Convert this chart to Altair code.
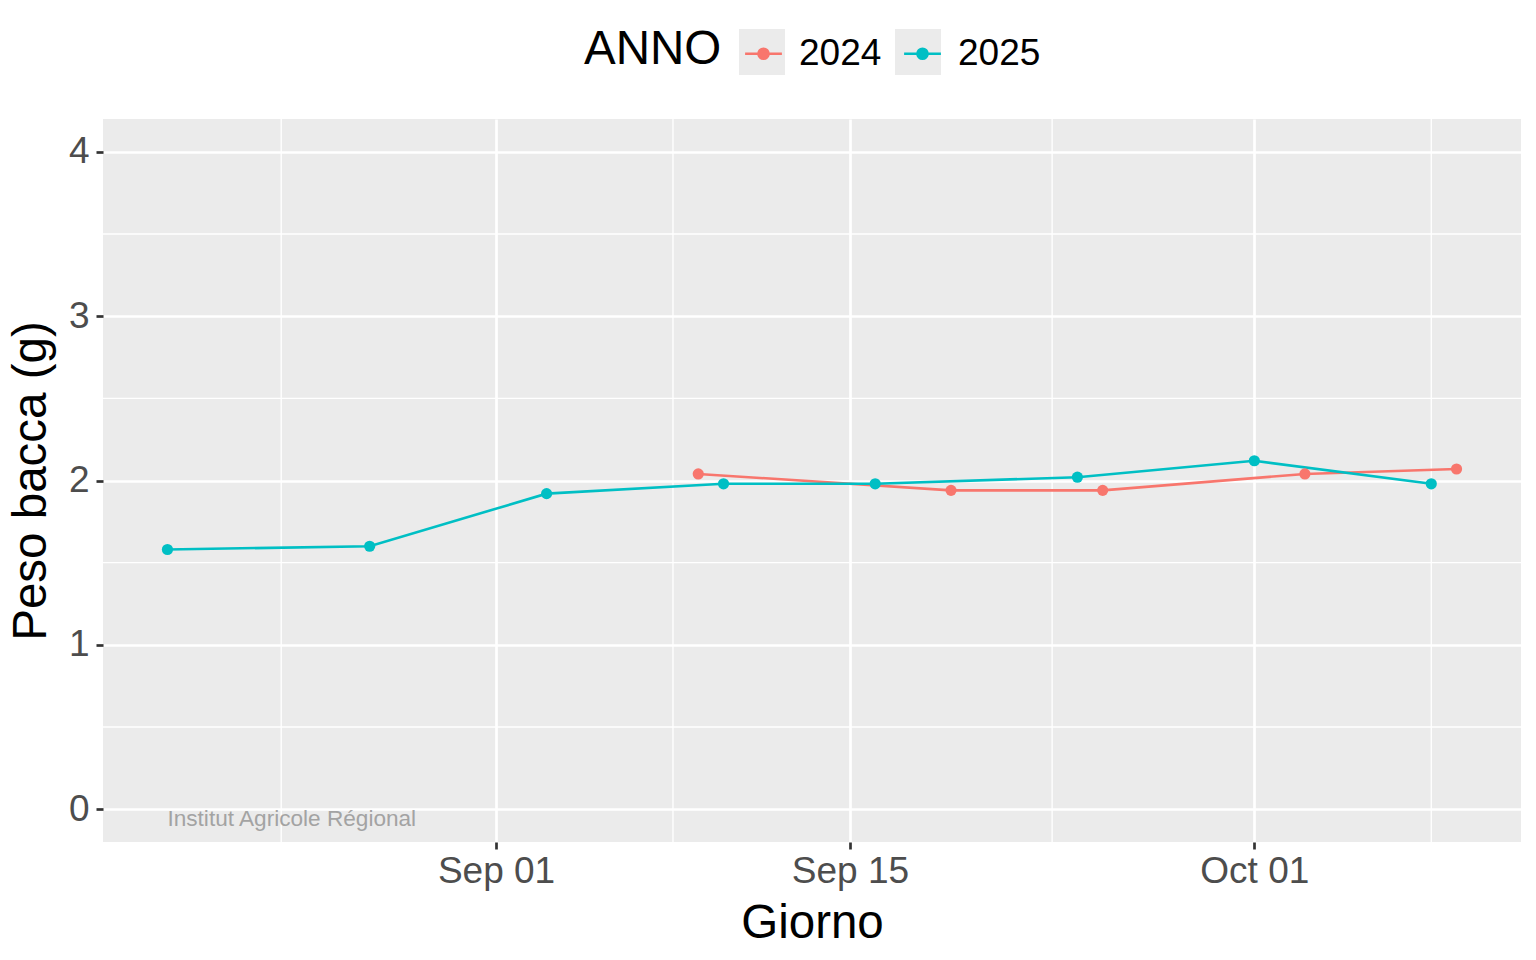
import altair as alt
import pandas as pd

# ---- data ----
anni = ["2024", "2025"]
colori = ["#F8766D", "#00BFC4"]

giorni_2024 = ["09-09", "09-19", "09-25", "10-03", "10-09"]
peso_2024 = [2.04, 1.94, 1.94, 2.04, 2.07]

giorni_2025 = ["08-19", "08-27", "09-03", "09-10", "09-16", "09-24", "10-01", "10-08"]
peso_2025 = [1.58, 1.60, 1.92, 1.98, 1.98, 2.02, 2.12, 1.98]

x_major = ["09-01", "09-15", "10-01"]
x_minor = ["08-23T12:00", "09-08T00:00", "09-23T00:00", "10-08T00:00"]
y_major = [0, 1, 2, 3, 4]
y_minor = [0.5, 1.5, 2.5, 3.5]
x_limits = ["08-16T10:48", "10-11T13:12"]
y_limits = [-0.2, 4.2]
watermark = "Institut Agricole Régional"
watermark_x = "08-19"
bg_keys = ["0000", "1111"]  # same-width placeholders for the grey key boxes

BASE_YEAR = "2025"


def ts(md):
    if "T" in md:
        return f"{BASE_YEAR}-{md}:00"
    return f"{BASE_YEAR}-{md}T00:00:00"


rows = []
for a, gg, pp in [("2024", giorni_2024, peso_2024), ("2025", giorni_2025, peso_2025)]:
    for g, p in zip(gg, pp):
        rows.append({"Giorno": ts(g), "Peso": p, "ANNO": a,
                     "BG": bg_keys[anni.index(a)]})
df = pd.DataFrame(rows)

df_minor_x = pd.DataFrame({"x": [ts(v) for v in x_minor]})
df_minor_y = pd.DataFrame({"y": y_minor})
df_wm = pd.DataFrame({"x": [ts(watermark_x)], "y": [0], "t": [watermark]})


def dt(s):
    d, t = s.split("T") if "T" in s else (s, "00:00")
    m, dd = d.split("-")
    h, mi = t.split(":")
    return alt.DateTime(year=int(BASE_YEAR), month=int(m), date=int(dd), hours=int(h), minutes=int(mi))


FONT = "Liberation Sans"

x_scale = alt.Scale(domain=[dt(x_limits[0]), dt(x_limits[1])])
y_scale = alt.Scale(domain=y_limits, nice=False, zero=False)

x_axis = alt.Axis(
    values=[dt(v) for v in x_major], format="%b %d", title="Giorno",
    grid=True, gridColor="white", gridWidth=2.7,
    domain=False, tickColor="#333333", tickWidth=2.7, tickSize=7,
    labelFontSize=37, labelColor="#4D4D4D", labelPadding=4, labelFont=FONT,
    titleFontSize=47.5, titleFontWeight="normal", titleColor="black", titleFont=FONT,
    titleBaseline="alphabetic", titleY=95, titleX=709, titleAnchor="middle",
    labelFlush=False, labelOverlap=False,
)
y_axis = alt.Axis(
    values=y_major, title="Peso bacca (g)",
    grid=True, gridColor="white", gridWidth=2.7,
    domain=False, tickColor="#333333", tickWidth=2.7, tickSize=7,
    labelFontSize=37, labelColor="#4D4D4D", labelPadding=7, labelFont=FONT,
    titleFontSize=47.5, titleFontWeight="normal", titleColor="black", titleFont=FONT,
    titleBaseline="alphabetic", titleX=-58, titleY=361.5, titleAngle=-90,
    titleAlign="center", labelFlush=False, labelOverlap=False,
)

SYM = "M-0.8,0H0.8M-0.22,0A0.22,0.22,0,1,0,0.22,0A0.22,0.22,0,1,0,-0.22,0Z"

common_legend = dict(
    title="ANNO", orient="none", legendX=481, legendY=-90, direction="horizontal",
    titleOrient="left", titleAnchor="middle", titleBaseline="middle",
    titleFontSize=47.5, titleFontWeight="normal", titleFont=FONT,
    labelFontSize=37, labelFont=FONT, symbolSize=2116, labelOffset=11,
    columnPadding=16, titlePadding=17, padding=0,
)

color_legend = alt.Legend(
    titleColor="black", labelColor="black", symbolType=SYM, symbolStrokeWidth=2.6,
    symbolOpacity=1, zindex=1, **common_legend,
)
bg_legend = alt.Legend(
    titleColor="transparent", labelColor="transparent", symbolType="square",
    symbolFillColor="#EBEBEB", symbolStrokeColor="#EBEBEB", symbolStrokeWidth=0,
    symbolOpacity=1, zindex=0, **common_legend,
)

base = alt.Chart(df)

minor_v = alt.Chart(df_minor_x).mark_rule(color="white", strokeWidth=1.35).encode(
    x=alt.X("x:T", scale=x_scale, axis=x_axis)
)
minor_h = alt.Chart(df_minor_y).mark_rule(color="white", strokeWidth=1.35).encode(
    y=alt.Y("y:Q", scale=y_scale, axis=y_axis)
)

lines = base.mark_line(strokeWidth=2.6).encode(
    x=alt.X("Giorno:T", scale=x_scale, axis=x_axis),
    y=alt.Y("Peso:Q", scale=y_scale, axis=y_axis),
    stroke=alt.Stroke("ANNO:N", scale=alt.Scale(domain=anni, range=colori), legend=color_legend),
    detail="ANNO:N",
)
points = base.mark_circle(size=125, opacity=1).encode(
    x=alt.X("Giorno:T", scale=x_scale, axis=x_axis),
    y=alt.Y("Peso:Q", scale=y_scale, axis=y_axis),
    fill=alt.Fill("ANNO:N", scale=alt.Scale(domain=anni, range=colori), legend=color_legend),
)
bg_layer = base.transform_filter("false").mark_point(filled=True, color="#EBEBEB", opacity=1).encode(
    x=alt.X("Giorno:T", scale=x_scale, axis=x_axis),
    y=alt.Y("Peso:Q", scale=y_scale, axis=y_axis),
    shape=alt.Shape("BG:N", scale=alt.Scale(domain=bg_keys, range=["square", "square"]), legend=bg_legend),
)
wm = alt.Chart(df_wm).mark_text(
    align="left", baseline="alphabetic", dy=17, fontSize=22.6, font=FONT, color="#A3A3A3"
).encode(
    x=alt.X("x:T", scale=x_scale, axis=x_axis),
    y=alt.Y("y:Q", scale=y_scale, axis=y_axis),
    text="t:N",
)

chart = alt.layer(minor_v, minor_h, bg_layer, lines, points, wm).properties(
    width=1418, height=723,
    padding={"left": 95, "top": 111, "right": 7, "bottom": 110},
    autosize=alt.AutoSizeParams(type="none"),
).configure(font=FONT).configure_view(fill="#EBEBEB", stroke=None)

chart.save("out.html", embed_options={"renderer": "svg", "actions": False})
